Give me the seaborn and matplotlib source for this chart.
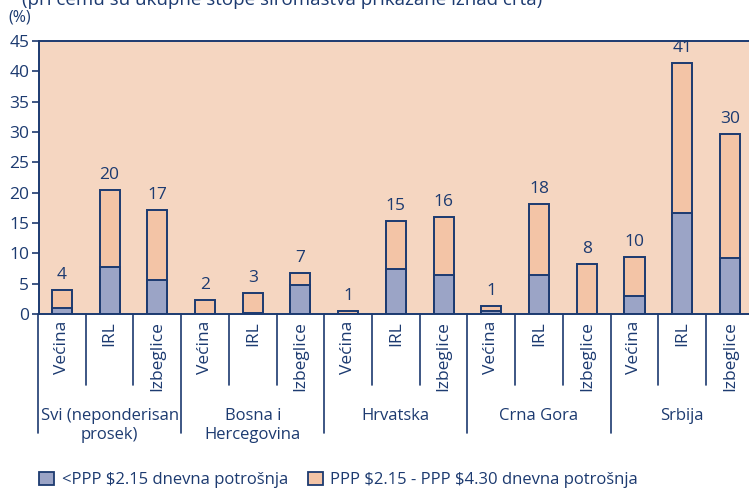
import pandas as pd
import numpy as np
import matplotlib
matplotlib.use("Agg")
import matplotlib.pyplot as plt
from matplotlib.patches import Patch
import seaborn as sns

# ----------------------------
# Data
# ----------------------------
groups = ["Svi (neponderisan\nprosek)", "Bosna i\nHercegovina", "Hrvatska", "Crna Gora", "Srbija"]
subgroups = ["Većina", "IRL", "Izbeglice"]
below_215 = [1.0, 7.7, 5.6, 0.05, 0.15, 4.7, 0.05, 7.5, 6.4, 0.55, 6.5, 0.05, 2.9, 16.6, 9.2]
total = [4.0, 20.4, 17.1, 2.3, 3.4, 6.7, 0.5, 15.3, 16.0, 1.25, 18.1, 8.2, 9.4, 41.4, 29.6]
total_labels = ["4", "20", "17", "2", "3", "7", "1", "15", "16", "1", "18", "8", "10", "41", "30"]
legend_labels = [r"<PPP \$2.15 dnevna potrošnja", r"PPP \$2.15 - PPP \$4.30 dnevna potrošnja"]

navy = "#1c3a70"
blue = "#9ba4c6"
peach = "#f3c4a6"
bg = "#f5d6c1"

df = pd.DataFrame({
    "key": [f"{g}|{s}" for g in groups for s in subgroups],
    "sub": subgroups * len(groups),
    "low": below_215,
    "total": total,
})

# ----------------------------
# Plot
# ----------------------------
sns.set_style("white")
plt.rcParams["font.family"] = ["Open Sans", "DejaVu Sans"]

fig = plt.figure(figsize=(7.49, 4.88), dpi=100)
ax = fig.add_axes([39 / 749, 1 - 314 / 488, 1 - 39 / 749, 273 / 488])
ax.set_facecolor(bg)

order = list(df["key"])
sns.barplot(data=df, x="key", y="total", order=order, color=peach, width=0.42,
            edgecolor=navy, linewidth=1.4, saturation=1, ax=ax)
sns.barplot(data=df, x="key", y="low", order=order, color=blue, width=0.42,
            edgecolor=navy, linewidth=1.4, saturation=1, ax=ax)

for i, (t, lab) in enumerate(zip(df["total"], total_labels)):
    ax.annotate(lab, (i, t), xytext=(0, 5), textcoords="offset points",
                ha="center", va="bottom", fontsize=12.5, color=navy)

ax.set_ylim(0, 45)
ax.set_xlim(-0.48, 14.4)
ax.set_yticks(range(0, 46, 5))
ax.tick_params(axis="y", colors=navy, labelsize=12.5, length=5, width=1.2,
               direction="out", left=True, pad=2)
ax.set_xticks([])
ax.set_xlabel("")
ax.set_ylabel("")
for side in ["left", "top", "bottom"]:
    ax.spines[side].set_color(navy)
    ax.spines[side].set_linewidth(1.4)
ax.spines["right"].set_visible(False)

# category labels and separators below the axis
trans = ax.get_xaxis_transform()
for i, s in enumerate(df["sub"]):
    ax.text(i, -0.025, s, rotation=90, ha="center", va="top", transform=trans,
            fontsize=12.5, color=navy, clip_on=False)
for b in np.arange(-0.5, 15, 1):
    is_group = (b + 0.5) % 3 == 0
    y_end = -0.435 if is_group else -0.26
    ax.plot([b, b], [0, y_end], transform=trans, color=navy, lw=1.2, clip_on=False)
for k, g in enumerate(groups):
    ax.text(3 * k + 1, -0.345, g, ha="center", va="top", transform=trans,
            fontsize=12, color=navy, linespacing=1.2, clip_on=False)

fig.text(8 / 749, 1 - 18 / 488, "(%)", fontsize=11.5, color=navy, va="center")
fig.text(22 / 749, 1 - 5 / 488, "(pri čemu su ukupne stope siromaštva prikazane iznad crta)",
         fontsize=13.5, color=navy, va="baseline")

# legend
handles = [Patch(facecolor=blue, edgecolor=navy, lw=1.3),
           Patch(facecolor=peach, edgecolor=navy, lw=1.3)]
leg = fig.legend(handles, legend_labels, loc="center left", bbox_to_anchor=(24 / 749, 1 - 480 / 488),
                 ncol=2, frameon=False, handlelength=0.9, handleheight=0.85,
                 handletextpad=0.45, columnspacing=1.2,
                 prop={"family": ["Open Sans", "DejaVu Sans"], "size": 12})
for t in leg.get_texts():
    t.set_color(navy)

fig.savefig("out.png", dpi=100)
